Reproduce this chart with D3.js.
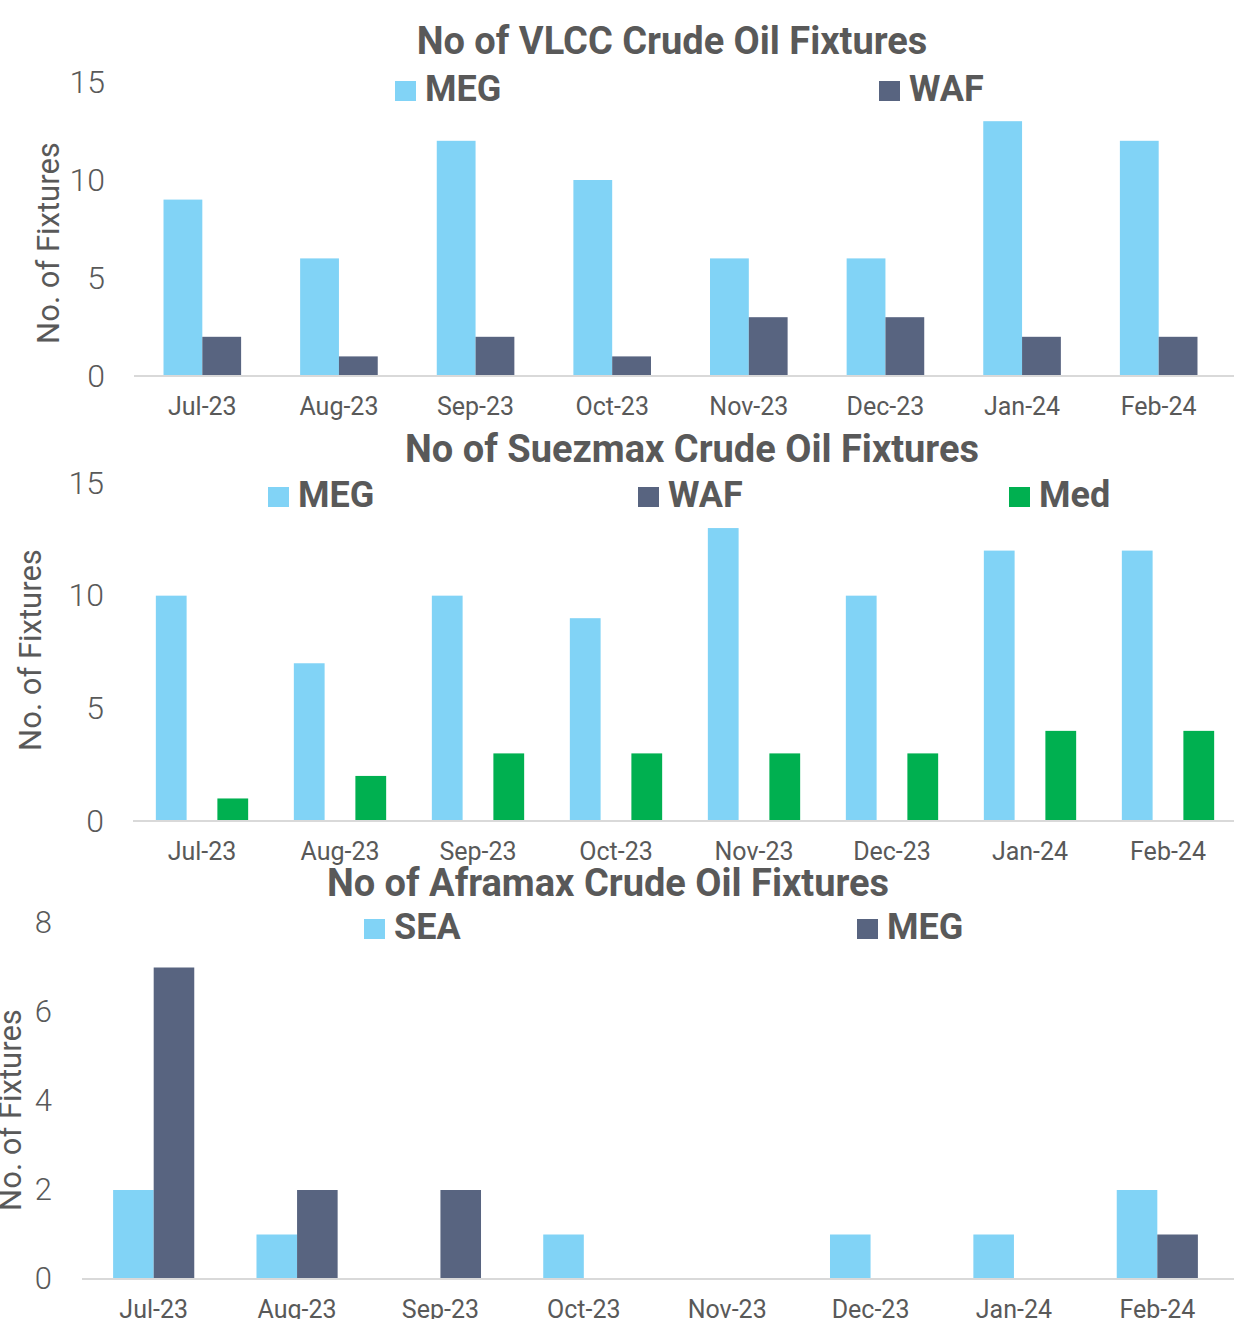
<!DOCTYPE html>
<html>
<head>
<meta charset="utf-8">
<script src="https://cdn.jsdelivr.net/npm/d3@7"></script>
<style>
  body { margin: 0; background: #fff; }
  svg { display: block; }
  text { font-family: Roboto, "Liberation Sans", sans-serif; fill: #595959; }
</style>
</head>
<body>
<svg id="chart" width="1234" height="1319"></svg>
<script>
// Months shared by all three panels
const months = ["Jul-23", "Aug-23", "Sep-23", "Oct-23", "Nov-23", "Dec-23", "Jan-24", "Feb-24"];

// VLCC fixtures
const vlccMEG = [9, 6, 12, 10, 6, 6, 13, 12];
const vlccWAF = [2, 1, 2, 1, 3, 3, 2, 2];
const vlccTicks = [0, 5, 10, 15];

// Suezmax fixtures
const suezMEG = [10, 7, 10, 9, 13, 10, 12, 12];
const suezWAF = [0, 0, 0, 0, 0, 0, 0, 0];
const suezMed = [1, 2, 3, 3, 3, 3, 4, 4];
const suezTicks = [0, 5, 10, 15];

// Aframax fixtures
const afraSEA = [2, 1, 0, 1, 0, 1, 1, 2];
const afraMEG = [7, 2, 2, 0, 0, 0, 0, 1];
const afraTicks = [0, 2, 4, 6, 8];

const C_LIGHT = "#81d3f6", C_DARK = "#586480", C_GREEN = "#00b050";

const panels = [
  {
    title: "No of VLCC Crude Oil Fixtures",
    series: [{ name: "MEG", values: vlccMEG, color: C_LIGHT }, { name: "WAF", values: vlccWAF, color: C_DARK }],
    ticks: vlccTicks,
    layout: { x0: 134, x1: 1227, yBase: 376, yTop: 82, inner: 0.432, titleX: 672, titleY: 54, titleSize: 38,
              legendY: 101, legendX: [395, 879], tickX: 105, tickSize: 32, yTitleX: 59, yTitleY: 243 }
  },
  {
    title: "No of Suezmax Crude Oil Fixtures",
    series: [{ name: "MEG", values: suezMEG, color: C_LIGHT }, { name: "WAF", values: suezWAF, color: C_DARK },
             { name: "Med", values: suezMed, color: C_GREEN }],
    ticks: suezTicks,
    layout: { x0: 133, x1: 1237, yBase: 821, yTop: 483, inner: 0.331, titleX: 692, titleY: 462, titleSize: 38,
              legendY: 507, legendX: [268, 638, 1009], tickX: 104, tickSize: 32, yTitleX: 41, yTitleY: 650 }
  },
  {
    title: "No of Aframax Crude Oil Fixtures",
    series: [{ name: "SEA", values: afraSEA, color: C_LIGHT }, { name: "MEG", values: afraMEG, color: C_DARK }],
    ticks: afraTicks,
    layout: { x0: 82, x1: 1229, yBase: 1279, yTop: 923, inner: 0.434, titleX: 608, titleY: 896, titleSize: 38,
              legendY: 939, legendX: [364, 857], tickX: 52, tickSize: 31, yTitleX: 21, yTitleY: 1110 }
  }
];

const svg = d3.select("#chart");

panels.forEach(p => {
  const L = p.layout;
  const g = svg.append("g");
  const yMax = d3.max(p.ticks);

  const x = d3.scaleBand().domain(months).range([L.x0, L.x1])
    .paddingInner(L.inner).paddingOuter(L.inner / 2);
  const xs = d3.scaleBand().domain(p.series.map(s => s.name)).range([0, x.bandwidth()]);
  const y = d3.scaleLinear().domain([0, yMax]).range([L.yBase, L.yTop]);

  // bars
  p.series.forEach(s => {
    g.append("g").selectAll("rect")
      .data(months.map((m, i) => ({ m, v: s.values[i] })))
      .join("rect")
      .attr("x", d => x(d.m) + xs(s.name))
      .attr("width", xs.bandwidth())
      .attr("y", d => y(d.v))
      .attr("height", d => y(0) - y(d.v))
      .attr("fill", s.color);
  });

  // category axis
  const xa = g.append("g").attr("transform", `translate(0,${L.yBase})`)
    .call(d3.axisBottom(x).tickSize(0).tickPadding(21));
  xa.select(".domain").remove();
  xa.selectAll("text").attr("font-size", 25).attr("fill", "#595959").style("font-family", "Roboto");
  g.append("line").attr("x1", L.x0).attr("x2", 1234).attr("y1", L.yBase).attr("y2", L.yBase)
    .attr("stroke", "#d9d9d9").attr("stroke-width", 2);

  // value axis
  const ya = g.append("g").attr("transform", `translate(${L.tickX},0)`)
    .call(d3.axisLeft(y).tickValues(p.ticks).tickSize(0).tickPadding(0));
  ya.select(".domain").remove();
  ya.selectAll("text").attr("font-size", L.tickSize).attr("fill", "#595959")
    .attr("font-weight", 300).style("font-family", "Roboto");

  // axis title
  g.append("text")
    .attr("transform", `translate(${L.yTitleX},${L.yTitleY}) rotate(-90)`)
    .attr("text-anchor", "middle")
    .attr("font-size", 31)
    .text("No. of Fixtures");

  // chart title
  g.append("text")
    .attr("x", L.titleX).attr("y", L.titleY)
    .attr("text-anchor", "middle")
    .attr("font-size", L.titleSize).attr("font-weight", 700)
    .text(p.title);

  // legend
  p.series.forEach((s, i) => {
    const lx = L.legendX[i];
    g.append("rect").attr("x", lx).attr("y", L.legendY - 20).attr("width", 21).attr("height", 20).attr("fill", s.color);
    g.append("text").attr("x", lx + 30).attr("y", L.legendY)
      .attr("font-size", 36).attr("font-weight", 700).text(s.name);
  });
});
</script>
</body>
</html>
